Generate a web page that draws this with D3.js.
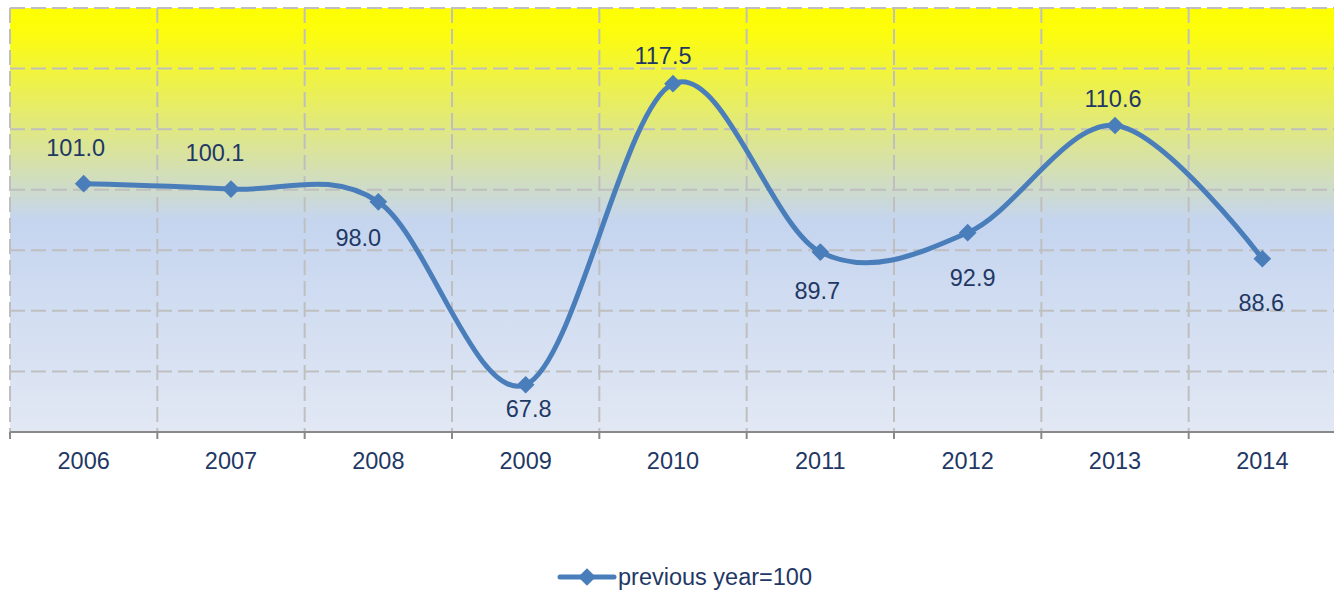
<!DOCTYPE html>
<html>
<head>
<meta charset="utf-8">
<script src="https://cdn.jsdelivr.net/npm/d3@7"></script>
<style>
  body { margin: 0; background: #fff; }
  text { font-family: "Liberation Sans", Arial, sans-serif; }
</style>
</head>
<body>
<svg id="svg" width="1334" height="590"></svg>
<script>
// chart data
var years = ["2006", "2007", "2008", "2009", "2010", "2011", "2012", "2013", "2014"];
var values = [101.0, 100.1, 98.0, 67.8, 117.5, 89.7, 92.9, 110.6, 88.6];
var yTicks = [60, 70, 80, 90, 100, 110, 120, 130];
var seriesName = "previous year=100";

(function() {
  'use strict';

  var svg = d3.select("#svg");
  var left = 10, right = 1336, top = 8, bottom = 432;
  var textColor = "#1f3864";
  var lineColor = "#4a7ebb";
  var fontSize = 23.5;

  var x = d3.scaleBand().domain(years).range([left, right]);
  var y = d3.scaleLinear().domain([60, 130]).range([bottom, top]);

  // background gradient
  var defs = svg.append("defs");
  var grad = defs.append("linearGradient")
    .attr("id", "bg")
    .attr("x1", 0).attr("y1", 0).attr("x2", 0).attr("y2", 1);
  grad.append("stop").attr("offset", "0").attr("stop-color", "#ffff00");
  grad.append("stop").attr("offset", "0.06").attr("stop-color", "#fcfc0e");
  grad.append("stop").attr("offset", "0.5").attr("stop-color", "#c5d5ef");
  grad.append("stop").attr("offset", "1").attr("stop-color", "#e2e8f4");

  svg.append("rect")
    .attr("x", left).attr("y", top)
    .attr("width", right - left).attr("height", bottom - top)
    .attr("fill", "url(#bg)");

  // grid
  var grid = svg.append("g")
    .attr("stroke", "#bfbfbf")
    .attr("stroke-width", 2)
    .attr("stroke-dasharray", "15,6");

  grid.selectAll(".hg").data(yTicks.slice(1))
    .enter().append("line")
    .attr("x1", left).attr("x2", right)
    .attr("y1", function(d) { return y(d); })
    .attr("y2", function(d) { return y(d); });

  var vEdges = years.map(function(d) { return x(d); });
  grid.selectAll(".vg").data(vEdges)
    .enter().append("line")
    .attr("x1", function(d) { return d; })
    .attr("x2", function(d) { return d; })
    .attr("y1", top).attr("y2", bottom);

  // x axis
  var xAxis = svg.append("g")
    .attr("transform", "translate(0," + bottom + ")");
  xAxis.append("line")
    .attr("x1", left).attr("x2", right)
    .attr("stroke", "#898989").attr("stroke-width", 2);
  xAxis.selectAll(".tick").data(vEdges.concat([right]))
    .enter().append("line")
    .attr("x1", function(d) { return d; })
    .attr("x2", function(d) { return d; })
    .attr("y1", 0).attr("y2", 7)
    .attr("stroke", "#898989").attr("stroke-width", 2);
  xAxis.selectAll("text").data(years)
    .enter().append("text")
    .attr("x", function(d) { return x(d) + x.bandwidth() / 2; })
    .attr("y", 36.5)
    .attr("text-anchor", "middle")
    .attr("font-size", fontSize)
    .attr("fill", textColor)
    .text(function(d) { return d; });

  // line
  var line = d3.line()
    .curve(d3.curveCardinal.tension(0))
    .x(function(d, i) { return x(years[i]) + x.bandwidth() / 2; })
    .y(function(d) { return y(d); });

  svg.append("path")
    .attr("d", line(values))
    .attr("fill", "none")
    .attr("stroke", lineColor)
    .attr("stroke-width", 5)
    .attr("stroke-linecap", "round");

  var diamond = d3.symbol().type(d3.symbolDiamond2).size(200);

  svg.selectAll(".pt").data(values)
    .enter().append("path")
    .attr("d", diamond)
    .attr("transform", function(d, i) {
      return "translate(" + (x(years[i]) + x.bandwidth() / 2) + "," + y(d) + ")";
    })
    .attr("fill", lineColor);

  // data labels, offsets as placed in the original chart
  var labelOffsets = [[-8, -28], [-16, -28], [-10, -19.5], [-2, -18.5], [-20, 44.5], [3, 32.5], [-3, 46.5], [5, 53.5], [-1, 52.5]];
  var order = [0, 1, 4, 7, 2, 3, 5, 6, 8];
  var offsetFor = {};
  order.forEach(function(k, j) { offsetFor[k] = labelOffsets[j]; });

  svg.selectAll(".lbl").data(values)
    .enter().append("text")
    .attr("x", function(d, i) { return x(years[i]) + x.bandwidth() / 2 + offsetFor[i][0]; })
    .attr("y", function(d, i) { return y(d) + offsetFor[i][1]; })
    .attr("text-anchor", "middle")
    .attr("font-size", fontSize)
    .attr("fill", textColor)
    .text(function(d) { return d.toFixed(1); });

  // legend
  var lg = svg.append("g").attr("transform", "translate(560,577)");
  lg.append("line")
    .attr("x1", 0).attr("x2", 54)
    .attr("stroke", lineColor).attr("stroke-width", 5)
    .attr("stroke-linecap", "round");
  lg.append("path")
    .attr("d", diamond)
    .attr("transform", "translate(27,0)")
    .attr("fill", lineColor);
  lg.append("text")
    .attr("x", 58).attr("y", 7.5)
    .attr("font-size", fontSize)
    .attr("fill", textColor)
    .text(seriesName);
}());
</script>
</body>
</html>
